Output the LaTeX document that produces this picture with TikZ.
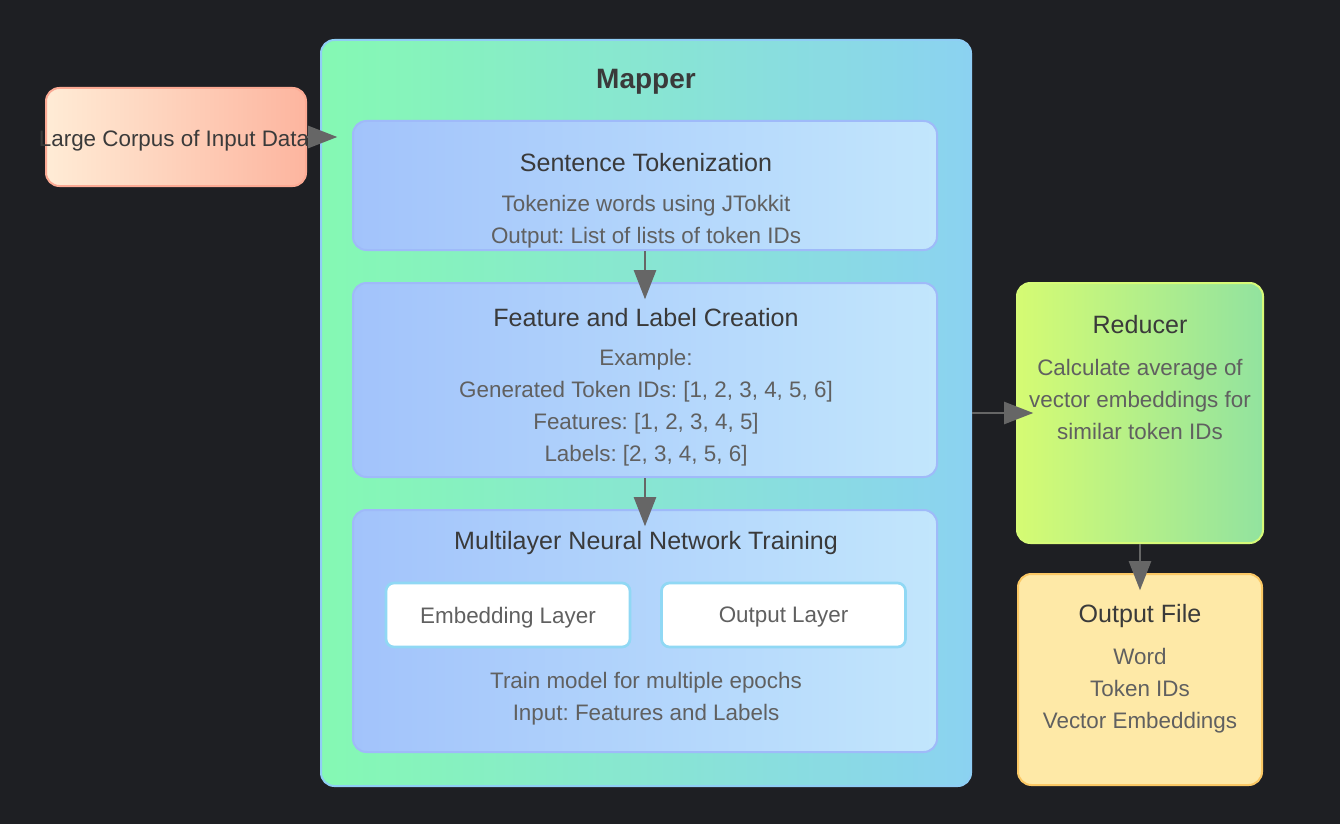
\documentclass[tikz,border=0pt]{standalone}
\usepackage{fontspec}
\setmainfont{Liberation Sans}
\frenchspacing
\definecolor{BgDark}{RGB}{30, 31, 35}
\definecolor{InLeft}{RGB}{255, 236, 214}
\definecolor{InRight}{RGB}{253, 181, 159}
\definecolor{InEdge}{RGB}{252, 170, 148}
\definecolor{MapLeft}{RGB}{133, 249, 179}
\definecolor{MapRight}{RGB}{139, 210, 241}
\definecolor{MapEdge}{RGB}{143, 206, 245}
\definecolor{StepLeft}{RGB}{162, 195, 251}
\definecolor{StepRight}{RGB}{194, 230, 252}
\definecolor{StepEdge}{RGB}{159, 186, 249}
\definecolor{LayerEdge}{RGB}{144, 216, 244}
\definecolor{RedLeft}{RGB}{213, 251, 115}
\definecolor{RedRight}{RGB}{146, 227, 159}
\definecolor{RedEdge}{RGB}{214, 250, 120}
\definecolor{FileFill}{RGB}{254, 233, 167}
\definecolor{FileEdge}{RGB}{251, 200, 100}
\definecolor{ArrowGray}{RGB}{102, 102, 102}
\definecolor{TitleGray}{RGB}{58, 58, 58}
\definecolor{BodyGray}{RGB}{96, 96, 96}
\usetikzlibrary{arrows.meta, positioning, calc}

\begin{document}
\begin{tikzpicture}[x=0.75pt, y=-0.75pt,
            box/.style={rectangle, rounded corners=10pt, line width=1.5pt, inner sep=0pt},
            layer/.style={rectangle, rounded corners=6pt, line width=2pt, draw=LayerEdge, fill=white, minimum width=183pt, minimum height=48pt},
            ttl/.style={font=\fontsize{18.8}{23}\selectfont, text=TitleGray, yshift=-0.8pt},
            txt/.style={font=\fontsize{16.8}{24}\selectfont, text=BodyGray, align=center, yshift=-1.8pt},
            flow/.style={draw=ArrowGray, line width=2.2pt, -{Triangle[length=22pt, width=16.5pt]}, shorten >=-13pt},
        ]
            \path[use as bounding box, fill=BgDark] (0,0) rectangle (1340,824);

            \node[box, draw=InEdge, left color=InLeft, right color=InRight, minimum width=195pt, minimum height=73.5pt] (input) at (176,137) {};
            \node[txt, text=TitleGray] (inputtxt) at (174,138) {Large Corpus of Input Data};

            \node[box, draw=MapEdge, left color=MapLeft, right color=MapRight, minimum width=487.5pt, minimum height=559.5pt] (mapper) at (646,413) {};
            \node[font=\bfseries\fontsize{21}{25}\selectfont, text=TitleGray] (maptitle) at (646,81.5) {Mapper};

            \node[box, draw=StepEdge, left color=StepLeft, right color=StepRight, minimum width=438pt, minimum height=96.75pt] (sent) at (645,185.5) {};
            \node[ttl] (senttitle) at (646,161) {Sentence Tokenization};
            \node[txt] (senttxt) at (646,219.5) {Tokenize words using JTokkit\\Output: List of lists of token IDs};

            \node[box, draw=StepEdge, left color=StepLeft, right color=StepRight, minimum width=438pt, minimum height=145.5pt] (feat) at (645,380) {};
            \node[ttl] (feattitle) at (646,316) {Feature and Label Creation};
            \node[txt] (feattxt) at (646,405.5) {Example:\\Generated Token IDs: [1, 2, 3, 4, 5, 6]\\Features: [1, 2, 3, 4, 5]\\Labels: [2, 3, 4, 5, 6]};

            \node[box, draw=StepEdge, left color=StepLeft, right color=StepRight, minimum width=438pt, minimum height=181.5pt] (train) at (645,631) {};
            \node[ttl] (traintitle) at (646,542) {Multilayer Neural Network Training};
            \node[layer] (embed) at (508,615) {};
            \node[txt] (embedtxt) at (508,615) {Embedding Layer};
            \node[layer] (outlayer) at (783.5,615) {};
            \node[txt] (outlayertxt) at (783.5,615) {Output Layer};
            \node[txt] (traintxt) at (646,696.5) {Train model for multiple epochs\\Input: Features and Labels};

            \node[box, draw=RedEdge, left color=RedLeft, right color=RedRight, minimum width=184.5pt, minimum height=195pt] (reducer) at (1140,413) {};
            \node[ttl] (redtitle) at (1140,323) {Reducer};
            \node[txt] (redtxt) at (1140,397) {Calculate average of\\vector embeddings for\\similar token IDs};

            \node[box, draw=FileEdge, fill=FileFill, minimum width=183pt, minimum height=158.25pt] (outfile) at (1140,679.5) {};
            \node[ttl] (filetitle) at (1140,615) {Output File};
            \node[txt] (filetxt) at (1140,688.5) {Word\\Token IDs\\Vector Embeddings};

            \draw[flow] (input.east) -- (input.east -| mapper.west);
            \draw[flow] (sent.south) -- (feat.north);
            \draw[flow] (feat.south) -- (train.north);
            \draw[flow] (mapper.east) -- (reducer.west);
            \draw[flow] (reducer.south) -- (outfile.north);
        \end{tikzpicture}
\end{document}
